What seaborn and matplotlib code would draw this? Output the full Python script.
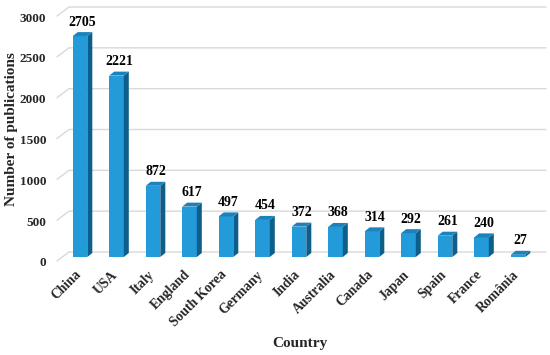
import matplotlib
matplotlib.use('Agg')
import matplotlib.pyplot as plt
import seaborn as sns
import pandas as pd
from matplotlib.patches import Polygon
from matplotlib.lines import Line2D
from matplotlib.transforms import IdentityTransform, ScaledTranslation

countries = ["China", "USA", "Italy", "England", "South Korea", "Germany", "India",
             "Australia", "Canada", "Japan", "Spain", "France", "România"]
publications = [2705, 2221, 872, 617, 497, 454, 372, 368, 314, 292, 261, 240, 27]
y_ticks = [0, 500, 1000, 1500, 2000, 2500, 3000]

FRONT = '#239BD8'
SIDE = '#0D5E8B'
TOP = '#1B82BC'
GRID = '#D9D9D9'

sns.set_theme(style='white')
plt.rcParams['font.family'] = ['Liberation Serif', 'DejaVu Serif']

W, H = 550, 355
fig = plt.figure(figsize=(W / 100, H / 100), dpi=100)
step = 36.5
cx0 = 80
x_lo, x_hi = -0.6, 12.6
left_px = cx0 + x_lo * step
right_px = cx0 + x_hi * step
ax_w = right_px - left_px
ax = fig.add_axes([left_px / W, (H - 257) / H, ax_w / W, 245 / H])

df = pd.DataFrame({'Country': countries, 'Publications': publications})
sns.barplot(data=df, x='Country', y='Publications', color=FRONT, width=0.4,
            saturation=1, ax=ax, zorder=3, linewidth=0)
ax.set_xlim(x_lo, x_hi)
ax.set_ylim(0, 3000)
for s in ax.spines.values():
    s.set_visible(False)
ax.grid(False)
ax.set_facecolor('none')
ax.set_yticks(y_ticks)
ax.tick_params(length=0)
ax.tick_params(axis='y', pad=8.5, labelsize=9.5)
ax.tick_params(axis='x', pad=7, labelsize=9.8)

for lab in ax.get_yticklabels():
    lab.set_fontweight('bold')
    lab.set_transform(lab.get_transform() + ScaledTranslation(0, -5 / 100, fig.dpi_scale_trans))
for lab in ax.get_xticklabels():
    lab.set_fontweight('bold')
    lab.set_rotation(45)
    lab.set_ha('right')
    lab.set_va('center')
    lab.set_rotation_mode('anchor')
    lab.set_transform(lab.get_transform() + ScaledTranslation(-1 / 100, -6 / 100, fig.dpi_scale_trans))

ax.set_xlabel('Country', fontsize=11, fontweight='bold')
ax.set_ylabel('Number of publications', fontsize=11, fontweight='bold')
ax.xaxis.set_label_coords((300 - left_px) / ax_w, (257 - 343) / 245)
ax.xaxis.label.set_va('center')
ax.yaxis.set_label_coords((12 - left_px) / ax_w, (257 - 129) / 245)
ax.yaxis.label.set_va('center')

fig.canvas.draw()
# back wall gridlines
for v in y_ticks:
    yd = ax.transData.transform((0, v))[1]
    ln = Line2D([57, 69, 546], [yd - 4, yd + 5, yd + 5], transform=IdentityTransform(),
                color=GRID, linewidth=1.0, zorder=0)
    fig.add_artist(ln)

# 3D faces
dx, dy = 5, 4
for p in ax.patches:
    x, w, h = p.get_x(), p.get_width(), p.get_height()
    tl = ax.transData.transform((x, h))
    tr = ax.transData.transform((x + w, h))
    br = ax.transData.transform((x + w, 0))
    side = Polygon([br, br + (dx, dy), tr + (dx, dy), tr], closed=True,
                   transform=IdentityTransform(), facecolor=SIDE, edgecolor='none', zorder=3)
    top = Polygon([tl, tr, tr + (dx, dy), tl + (dx, dy)], closed=True,
                  transform=IdentityTransform(), facecolor=TOP, edgecolor='none', zorder=3)
    fig.add_artist(side)
    fig.add_artist(top)

for i, v in enumerate(publications):
    ax.annotate(f"{v}", xy=(i, v), xytext=(2.5, 14), textcoords='offset pixels',
                ha='center', va='center', fontsize=10, fontweight='bold', color='black')

fig.savefig('out.png', dpi=100)
